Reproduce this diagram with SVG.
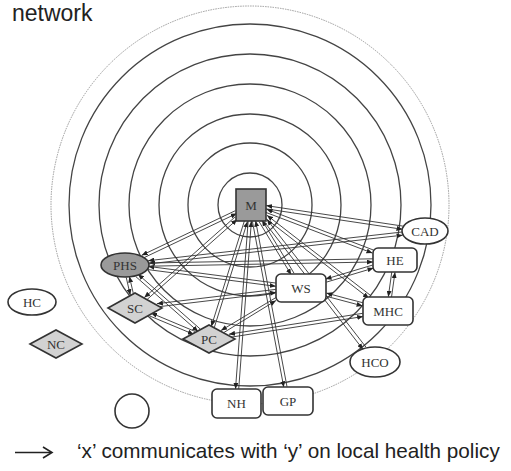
<svg xmlns="http://www.w3.org/2000/svg" width="511" height="471" viewBox="0 0 511 471">
<style>
.ring{fill:none;stroke:#444;stroke-width:1.3}
.dot{fill:none;stroke:#9a9a9a;stroke-width:1;stroke-dasharray:1.5 1}
.e{fill:none;stroke:#333;stroke-width:0.9;marker-end:url(#ah)}
.n{fill:#fff;stroke:#333;stroke-width:1.6}
.g{fill:#9a9a9a;stroke:#333;stroke-width:1.6}
.lg{fill:#d2d2d2;stroke:#333;stroke-width:1.6}
.t{font-family:"Liberation Serif","Times New Roman",serif;font-size:13px;fill:#333;text-anchor:middle}
.s{font-family:"Liberation Sans",Arial,sans-serif;fill:#222}
</style>
<defs>
<marker id="ah" markerUnits="userSpaceOnUse" markerWidth="6" markerHeight="5" refX="6" refY="2.5" orient="auto"><path d="M0,0 L6,2.5 L0,5 z" fill="#222"/></marker>
</defs>
<text class="s" x="12" y="21" font-size="23">network</text>
<g id="rings">
<circle class="dot" cx="250" cy="205" r="199"/>
<circle class="ring" cx="250" cy="205" r="181"/>
<circle class="ring" cx="250" cy="205" r="151"/>
<circle class="ring" cx="250" cy="205" r="121"/>
<circle class="ring" cx="250" cy="205" r="91"/>
<circle class="ring" cx="250" cy="205" r="62"/>
<circle class="ring" cx="250" cy="205" r="32"/>
</g>
<g id="connectors">
<path class="e" d="M235.3,210.7 L141.7,255.3"/><path class="e" d="M143.1,258.1 L236.7,213.5"/>
<path class="e" d="M234.9,217.1 L144.3,297.6"/><path class="e" d="M146.5,300 L237.1,219.5"/>
<path class="e" d="M244.5,220.5 L211.3,326.5"/><path class="e" d="M214.3,327.5 L247.5,221.5"/>
<path class="e" d="M248.2,220.9 L235.5,388.9"/><path class="e" d="M238.7,389.1 L251.4,221.1"/>
<path class="e" d="M252.4,221.3 L283.8,387.3"/><path class="e" d="M287,386.7 L255.6,220.7"/>
<path class="e" d="M259.2,221.8 L291.2,274.8"/><path class="e" d="M294,273.2 L262,220.2"/>
<path class="e" d="M265.4,212.2 L372.4,253.1"/><path class="e" d="M373.6,250.1 L266.6,209.2"/>
<path class="e" d="M265.8,208.8 L402.5,229.3"/><path class="e" d="M402.9,226.1 L266.2,205.6"/>
<path class="e" d="M265,217.9 L368.9,298.3"/><path class="e" d="M370.9,295.7 L267,215.3"/>
<path class="e" d="M264,221.5 L363,349.4"/><path class="e" d="M366,347.2 L267,219.5"/>
<path class="e" d="M126.2,277.3 L130.3,295.1"/><path class="e" d="M133.5,294.3 L129.4,276.5"/>
<path class="e" d="M135.8,276.6 L198.1,331.5"/><path class="e" d="M200.3,329.1 L138,274.2"/>
<path class="e" d="M148,269.6 L275.8,286.3"/><path class="e" d="M276.2,283.1 L148.4,266.4"/>
<path class="e" d="M149,266.2 L373,262"/><path class="e" d="M373,258.8 L149,263"/>
<path class="e" d="M148.6,263.9 L402.6,235.2"/><path class="e" d="M402.2,232 L148.2,260.7"/>
<path class="e" d="M149.8,316 L193.8,334.4"/><path class="e" d="M195,331.4 L151,313"/>
<path class="e" d="M157.3,306.9 L276.2,292.6"/><path class="e" d="M275.8,289.4 L156.9,303.7"/>
<path class="e" d="M222.6,333.3 L276,300.5"/><path class="e" d="M276,297.5 L221,330.5"/>
<path class="e" d="M229.5,337.4 L363.2,316.5"/><path class="e" d="M362.8,313.3 L229,334.2"/>
<path class="e" d="M326.5,282.1 L373.5,268.1"/><path class="e" d="M372.5,265.1 L325.5,279.1"/>
<path class="e" d="M325.6,296.1 L362.6,305.9"/><path class="e" d="M363.4,302.9 L326.4,293.1"/>
<path class="e" d="M391.8,271.8 L388.3,296.8"/><path class="e" d="M391.5,297.2 L395,272.2"/>
</g>
<g id="M"><rect class="g" x="236" y="189" width="30" height="32" fill="#8a8a8a"/><text class="t" x="251" y="210">M</text></g>
<g id="PHS"><ellipse class="g" cx="125" cy="265" rx="24" ry="12"/><text class="t" x="125" y="269.5">PHS</text></g>
<g id="SC"><polygon class="lg" points="108,308 135,293 162,308 135,323"/><text class="t" x="135" y="312.5">SC</text></g>
<g id="PC"><polygon class="lg" points="183,339 209,325 235,339 209,353"/><text class="t" x="209" y="343.5">PC</text></g>
<g id="WS"><rect class="n" x="276" y="274" width="50" height="28" rx="5"/><text class="t" x="301" y="292.5">WS</text></g>
<g id="HE"><rect class="n" x="373" y="248" width="44" height="24" rx="5"/><text class="t" x="395" y="264.5">HE</text></g>
<g id="CAD"><ellipse class="n" cx="425" cy="231" rx="23" ry="13"/><text class="t" x="425" y="235.5">CAD</text></g>
<g id="MHC"><rect class="n" x="363" y="297" width="50" height="28" rx="5"/><text class="t" x="388" y="315.5">MHC</text></g>
<g id="HCO"><ellipse class="n" cx="375" cy="362" rx="25" ry="15"/><text class="t" x="375" y="366.5">HCO</text></g>
<g id="NH"><rect class="n" x="212" y="389" width="49" height="29" rx="5"/><text class="t" x="236.5" y="408">NH</text></g>
<g id="GP"><rect class="n" x="263" y="387" width="50" height="28" rx="5"/><text class="t" x="288" y="405.5">GP</text></g>
<g id="HC"><ellipse class="n" cx="32" cy="302" rx="24" ry="13"/><text class="t" x="32" y="306.5">HC</text></g>
<g id="NC"><polygon class="lg" points="30,344 56,330 82,344 56,358"/><text class="t" x="56" y="348.5">NC</text></g>
<g id="empty"><circle class="n" cx="132" cy="411" r="17"/></g>
<g id="legend">
<path d="M15,452.5 H51" stroke="#222" stroke-width="1.6" fill="none"/>
<path d="M43,447 L52,452.5 L43,458" stroke="#222" stroke-width="1.6" fill="none"/>
<text class="s" x="77" y="458" font-size="20.7">‘x’ communicates with ‘y’ on local health policy</text>
</g>
</svg>
